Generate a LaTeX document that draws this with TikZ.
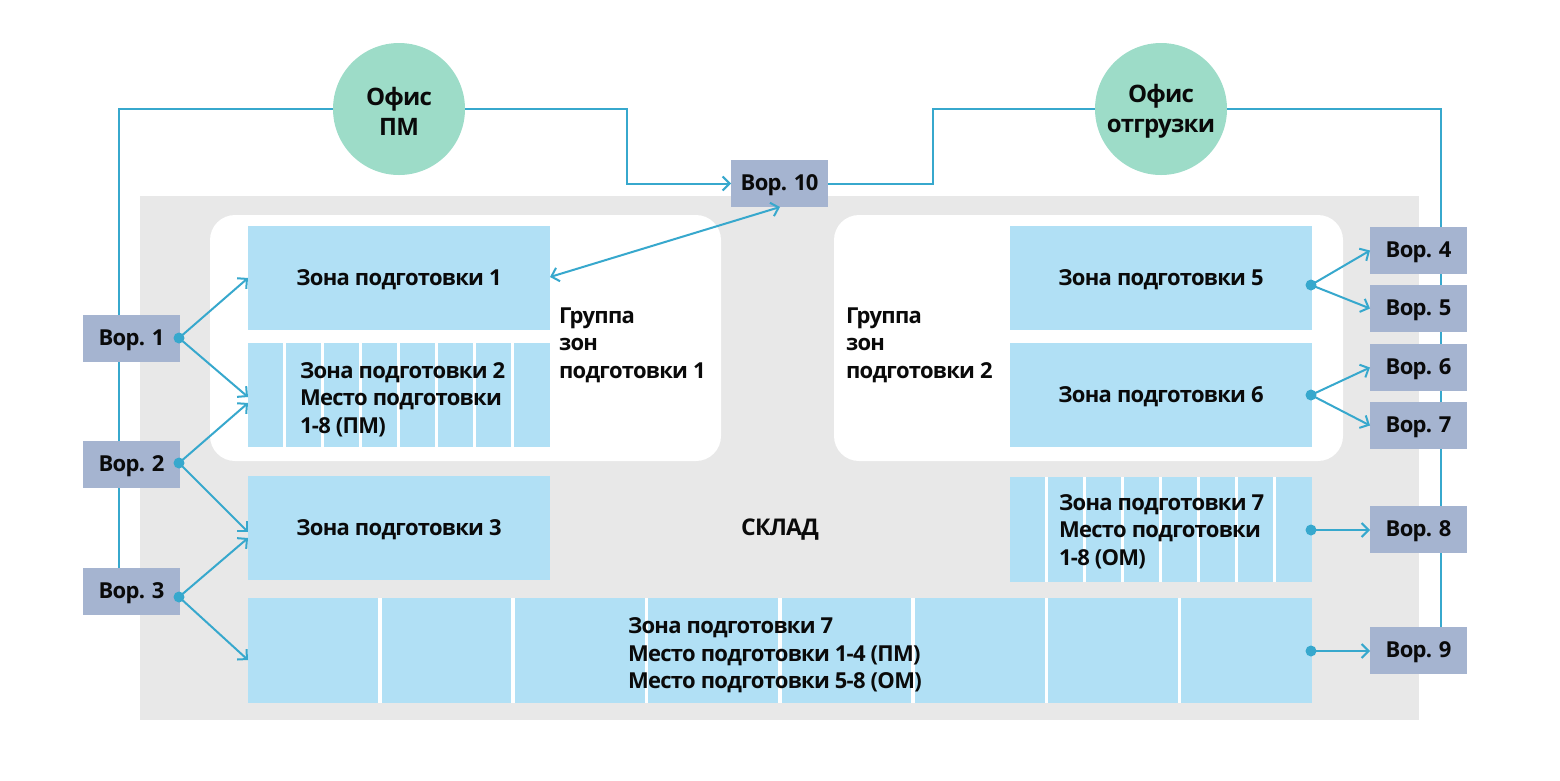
\documentclass[tikz,border=0pt]{standalone}
\usepackage{fontspec}
\setmainfont[LetterSpace=-3.2]{Open Sans}
\usetikzlibrary{arrows.meta,calc}
\definecolor{lnc}{HTML}{37A8CD}
\definecolor{zonec}{HTML}{B1E0F5}
\definecolor{gatec}{HTML}{A5B4D0}
\definecolor{greyc}{HTML}{E8E8E8}
\definecolor{ofc}{HTML}{9DDCC8}
\definecolor{txtc}{HTML}{0A0A0A}
\tikzset{
  x=1pt,y=-1pt,
  every node/.style={font=\fontsize{22}{27.5}\selectfont\bfseries,text=txtc,inner sep=0pt,outer sep=0pt},
  zone/.style={fill=zonec,minimum width=302pt,minimum height=104.5pt,text height=14pt,text depth=0pt},
  gate/.style={fill=gatec,minimum width=97pt,minimum height=47pt,text height=14pt,text depth=0pt},
  office/.style={circle,fill=ofc,minimum size=132pt},
  officetxt/.style={align=center,font=\fontsize{24}{30}\selectfont\bfseries},
  txt/.style={align=left,anchor=west},
  dotn/.style={circle,fill=lnc,minimum size=11pt},
  conn/.style={draw=lnc,line width=2pt},
  arr/.style={conn,-{Straight Barb[length=7pt,width=14pt,line width=2pt]}},
  darr/.style={conn,{Straight Barb[length=7pt,width=14pt,line width=2pt]}-{Straight Barb[length=7pt,width=14pt,line width=2pt]}},
  sep/.style={draw=white,line width=3pt},
}
\begin{document}
\begin{tikzpicture}
\useasboundingbox (0,0) rectangle (1560,780);
\fill[greyc] (140,196) rectangle (1419,720);
\fill[white,rounded corners=25pt] (210,215) rectangle (721,461);
\fill[white,rounded corners=25pt] (834,215) rectangle (1343,461);
% zones
\node[zone] (z1) at (399,278) {Зона подготовки 1};
\node[zone] (z2) at (399,395) {};
\node[zone] (z3) at (399,528) {Зона подготовки 3};
\node[zone] (z5) at (1161,278) {Зона подготовки 5};
\node[zone] (z6) at (1161,395) {Зона подготовки 6};
\node[zone] (z7) at (1161,529.5) {};
\node[zone,minimum width=1064pt] (z8) at (780,650.5) {};
\foreach \i in {1,...,7}{
  \draw[sep] ($(z2.north west)+(\i*38-1.5,0)$) -- ($(z2.south west)+(\i*38-1.5,0)$);
  \draw[sep] ($(z7.north west)+(\i*38-1.5,0)$) -- ($(z7.south west)+(\i*38-1.5,0)$);
  \draw[sep,line width=3.6pt] ($(z8.north west)+(\i*133.3-1.5,0)$) -- ($(z8.south west)+(\i*133.3-1.5,0)$);
}
\node[txt] (t2) at (300,399.5) {Зона подготовки 2\\Место подготовки\\1-8 (ПМ)};
\node[txt] (t7) at (1059,531.5) {Зона подготовки 7\\Место подготовки\\1-8 (ОМ)};
\node[txt] (t8) at (628,655.5) {Зона подготовки 7\\Место подготовки 1-4 (ПМ)\\Место подготовки 5-8 (ОМ)};
\node[txt] (g1t) at (559,345) {Группа\\зон\\подготовки 1};
\node[txt] (g2t) at (846,345) {Группа\\зон\\подготовки 2};
\node[text height=14pt,text depth=0pt,font=\fontsize{23}{27.5}\selectfont\bfseries] (sk) at (780,528) {СКЛАД};
% offices
\node[office] (ofpm) at (399,109) {};
\node[office] (ofot) at (1161,109) {};
\node[officetxt] (ofpmt) at (399,111) {Офис\\ПМ};
\node[officetxt] (ofott) at (1161,111) {Офис\\отгрузки};
% gates
\node[gate] (g1) at (131.5,338.5) {Вор. 1};
\node[gate] (g2) at (131.5,464.5) {Вор. 2};
\node[gate] (g3) at (131.5,591.5) {Вор. 3};
\node[gate] (g4) at (1418.5,250.5) {Вор. 4};
\node[gate] (g5) at (1418.5,308.5) {Вор. 5};
\node[gate] (g6) at (1418.5,367.5) {Вор. 6};
\node[gate] (g7) at (1418.5,425.5) {Вор. 7};
\node[gate] (g8) at (1418.5,529.5) {Вор. 8};
\node[gate] (g9) at (1418.5,650.5) {Вор. 9};
\node[gate] (g10) at (779.5,183.5) {Вор. 10};
% dots
\node[dotn] (d1) at (179,338) {};
\node[dotn] (d2) at (179,463) {};
\node[dotn] (d3) at (179,597) {};
\node[dotn] (d5) at (1311,285) {};
\node[dotn] (d6) at (1311,395) {};
\node[dotn] (d7) at (1311,530) {};
\node[dotn] (d8) at (1311,651) {};
% free ends and bends
\coordinate (lv) at (119,109);
\coordinate (rv) at (1441,109);
\coordinate (b1) at (627,109);
\coordinate (b2) at (933,109);
\coordinate (a1) at (248,278);
\coordinate (a2) at (248,397);
\coordinate (a3) at (248,403);
\coordinate (a4) at (248,532);
\coordinate (a5) at (248,538);
\coordinate (a6) at (248,660);
\coordinate (a7) at (550,277);
\coordinate (a8) at (780,207);
% connectors
\draw[conn] (ofpm.west) -- (lv) -- (lv |- g1.north);
\draw[conn] (lv |- g1.south) -- (lv |- g2.north);
\draw[conn] (lv |- g2.south) -- (lv |- g3.north);
\draw[arr] (ofpm.east) -- (b1) -- (b1 |- g10.west) -- (g10.west);
\draw[conn] (g10.east) -- (b2 |- g10.east) -- (b2) -- (ofot.west);
\draw[conn] (ofot.east) -- (rv) -- (rv |- g4.north);
\draw[conn] (rv |- g4.south) -- (rv |- g5.north);
\draw[conn] (rv |- g5.south) -- (rv |- g6.north);
\draw[conn] (rv |- g6.south) -- (rv |- g7.north);
\draw[conn] (rv |- g7.south) -- (rv |- g8.north);
\draw[conn] (rv |- g8.south) -- (rv |- g9.north);
\draw[arr] (d1.center) -- (a1);
\draw[arr] (d1.center) -- (a2);
\draw[arr] (d2.center) -- (a3);
\draw[arr] (d2.center) -- (a4);
\draw[arr] (d3.center) -- (a5);
\draw[arr] (d3.center) -- (a6);
\draw[darr] (a7) -- (a8);
\draw[arr] (d5.center) -- (g4.west);
\draw[arr] (d5.center) -- (g5.west);
\draw[arr] (d6.center) -- (g6.west);
\draw[arr] (d6.center) -- (g7.west);
\draw[arr] (d7.center) -- (d7 -| g8.west);
\draw[arr] (d8.center) -- (d8 -| g9.west);
\end{tikzpicture}
\end{document}
